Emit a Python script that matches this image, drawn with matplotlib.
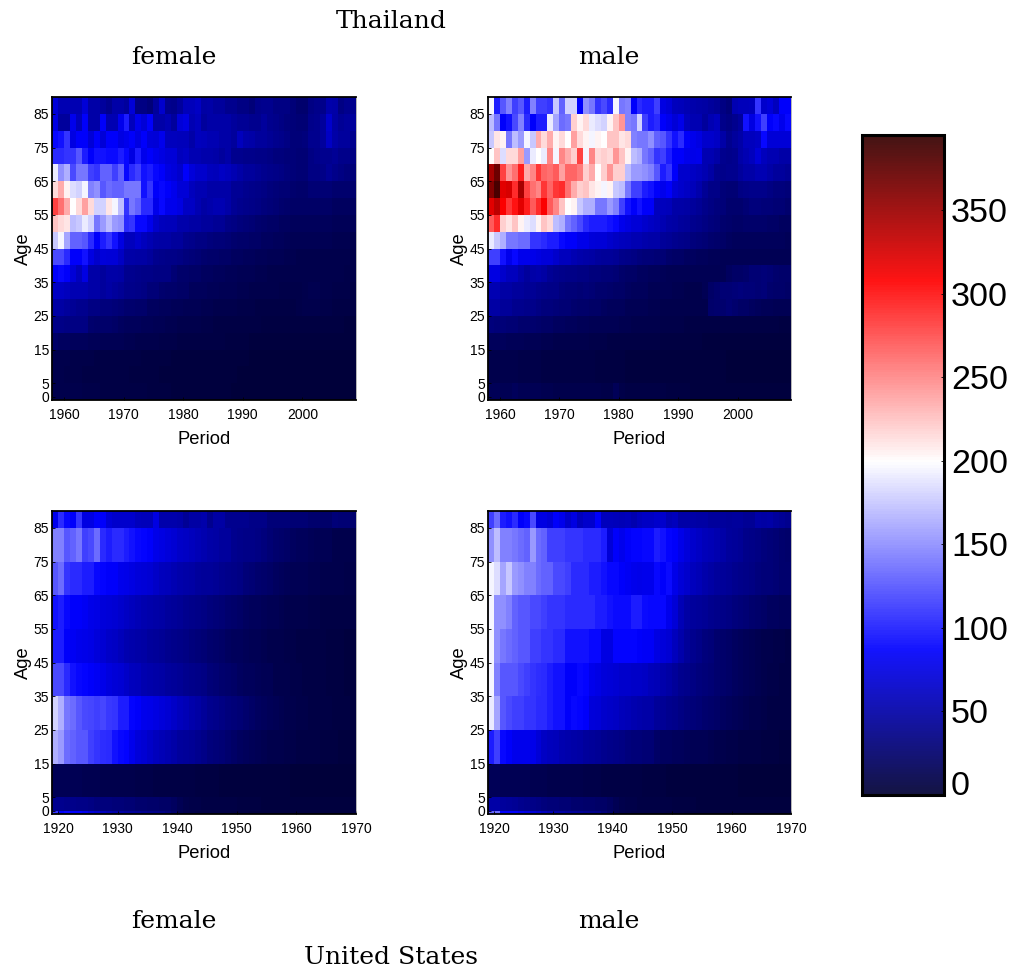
import numpy as np
import matplotlib
matplotlib.use("Agg")
import matplotlib.pyplot as plt
from matplotlib.colors import LinearSegmentedColormap

plt.rcParams['font.family'] = ['Liberation Sans', 'DejaVu Sans']

W, H = 1018, 973

thai_years = np.arange(1958, 2010)
us_years = np.arange(1919, 1971)
thai_ages = [90, 85, 80, 75, 70, 65, 60, 55, 50, 45, 40, 35, 30, 25, 20, 15, 10, 5, 1, 0]
us_ages = [90, 85, 75, 65, 55, 45, 35, 25, 15, 5, 1, 0]

thai_xticks = [1960, 1970, 1980, 1990, 2000]
us_xticks = [1920, 1930, 1940, 1950, 1960, 1970]
age_ticks = [1, 5, 15, 25, 35, 45, 55, 65, 75, 85]
age_labels = ['0', '5', '15', '25', '35', '45', '55', '65', '75', '85']
bar_ticks = [0, 50, 100, 150, 200, 250, 300, 350]

# rows run from the oldest age group down to the youngest
thai_female = [
    [70,55,55,55,55,70,50,50,45,40, 50,50,45,70,35,35,30,45,65,40, 38,45,58,58,62,48,50,45,45,40, 40,35,35,30,38,40,40,35,35,35, 30,25,25,35,38,38,52,50,35,40, 40],
    [75,45,45,80,60,85,50,50,85,55, 55,80,100,60,80,70,85,50,50,55, 45,70,75,55,60,45,50,50,50,50, 45,42,42,40,40,45,40,38,35,32, 30,28,28,38,40,45,65,48,42,45, 45],
    [90,95,110,75,85,85,70,85,70,85, 85,75,80,85,75,85,72,70,80,60, 60,58,58,50,60,58,55,55,50,50, 45,60,52,50,45,45,42,40,38,35, 30,30,32,40,40,45,62,50,45,45, 40],
    [105,105,110,110,125,100,85,95,95,92, 92,100,90,75,100,80,85,80,75,70, 70,60,62,55,55,52,52,50,45,50, 40,40,38,38,36,36,35,32,32,30, 30,28,28,35,38,40,40,42,38,38, 35],
    [190,150,165,120,140,140,115,110,130,130, 115,130,90,105,115,95,100,90,85,75, 72,65,85,72,65,65,60,58,62,60, 55,50,45,45,42,40,38,36,34,32, 30,28,28,34,34,36,42,38,35,32, 30],
    [215,235,205,185,180,195,145,150,125,135, 130,130,140,140,140,95,110,85,90,85, 80,70,70,60,55,55,50,50,50,50, 42,42,40,38,36,34,32,30,28,28, 25,24,24,28,28,28,28,26,25,25, 25],
    [280,260,235,200,215,240,215,180,180,210, 195,170,110,140,130,105,105,80,90,80, 80,75,62,62,55,48,52,55,55,50, 42,40,38,36,34,32,30,28,26,24, 22,22,22,22,22,22,22,20,20,20, 20],
    [225,215,210,170,175,190,180,140,155,170, 155,150,105,110,90,90,80,65,60,58, 58,52,52,48,48,45,45,42,42,36, 34,32,30,28,26,24,22,22,20,20, 18,18,18,18,18,18,18,16,16,16, 16],
    [175,195,160,130,130,125,105,85,100,110, 95,75,60,60,65,60,55,50,48,48, 45,45,40,38,35,35,32,30,30,28, 26,24,24,22,22,20,20,18,18,16, 15,15,15,15,14,14,14,13,13,13, 12],
    [120,120,105,85,85,95,75,65,72,70, 70,62,50,50,48,48,45,40,38,36, 36,35,32,30,28,26,24,24,22,22, 20,20,18,18,16,16,15,14,14,13, 13,12,12,12,12,12,12,11,11,11, 10],
    [85,90,85,70,60,75,50,50,45,50, 50,48,40,40,38,36,36,34,34,34, 28,24,24,22,22,20,20,18,18,16, 16,15,14,14,13,13,12,12,11,11, 11,11,11,12,12,12,12,11,11,10, 10],
    [62,62,60,55,55,55,50,50,45,48, 45,42,38,38,36,34,30,30,26,24, 24,22,22,18,18,17,16,16,15,14, 14,13,13,12,12,11,11,11,10,10, 10,10,12,13,13,12,12,10,10,10, 9],
    [48,48,45,42,40,40,34,34,32,32, 30,28,26,26,24,24,20,20,18,18, 16,16,15,14,14,13,13,12,12,11, 11,10,10,10,9,9,9,9,9,9, 9,10,11,12,12,10,10,9,9,8, 8],
    [36,36,34,34,34,34,26,24,24,24, 22,20,18,18,17,16,16,14,14,13, 13,12,12,11,11,10,10,9,9,9, 8,8,8,8,8,7,7,7,7,7, 7,7,7,7,7,7,7,7,7,6, 6],
    [22,20,20,18,18,18,16,16,15,15, 14,14,13,13,12,12,11,11,10,10, 10,9,9,9,9,8,8,8,8,7, 7,7,7,6,6,6,6,6,6,6, 6,6,6,6,6,6,6,5,5,5, 5],
    [12,11,11,10,10,10,10,9,9,9, 9,8,8,8,8,7,7,7,7,7, 6,6,6,6,6,5,5,5,5,5, 5,5,5,4,4,4,4,4,4,4, 4,4,4,4,4,4,4,4,4,4, 4],
    [11,11,10,10,10,9,9,9,9,8, 8,8,8,7,7,7,7,7,6,6, 6,6,6,6,5,5,5,5,5,5, 5,4,4,4,4,4,4,4,4,4, 4,4,4,4,4,4,4,4,4,4, 4],
    [12,12,11,11,11,10,10,10,9,9, 9,9,8,8,8,8,7,7,7,7, 6,6,6,6,6,5,5,5,5,5, 4,4,4,4,4,4,4,4,4,4, 4,4,4,4,4,4,4,4,4,4, 4],
    [12,12,11,11,11,10,10,10,9,9, 9,9,8,8,8,8,7,7,7,7, 6,6,6,6,6,5,5,5,5,5, 4,4,4,4,4,4,4,4,4,4, 4,4,4,4,4,4,4,4,4,4, 4],
]

thai_male = [
    [195,100,125,145,115,125,100,145,115,115, 110,175,130,180,180,85,150,140,110,120, 105,195,140,145,85,105,100,100,115,75, 70,60,58,55,52,50,48,45,42,35, 30,55,58,58,60,110,65,70,60,85, 85],
    [170,140,85,95,120,145,105,85,100,100, 190,160,135,140,220,205,215,190,185,180, 205,225,245,145,140,180,115,100,105,85, 80,70,78,60,55,55,45,55,60,38, 35,40,45,95,75,95,115,85,90,80, 90],
    [175,210,205,140,170,155,195,175,235,215, 235,205,215,200,240,215,205,195,205,200, 225,225,210,215,145,140,140,150,130,125, 110,95,105,85,80,75,65,65,62,50, 40,45,50,60,60,62,90,70,70,70, 70],
    [200,225,185,215,215,240,155,190,200,190, 250,195,250,235,220,280,195,250,215,220, 215,245,225,205,170,165,140,130,110,115, 100,85,85,80,78,80,55,55,50,40, 38,40,50,55,60,70,60,55,55,50, 50],
    [345,370,280,245,260,295,235,250,285,265, 260,270,240,265,265,255,220,235,200,220, 245,220,220,170,155,155,150,145,125,100, 110,85,65,65,62,60,55,48,40,38, 40,40,45,50,50,55,55,50,45,45, 42],
    [360,385,320,325,290,345,280,260,250,285, 265,285,290,260,235,220,225,210,205,195, 205,175,170,140,115,115,100,95,85,80, 85,70,65,62,58,52,42,36,36,30, 28,28,35,36,38,38,38,34,32,32, 30],
    [320,335,310,285,300,320,295,270,290,310, 270,250,225,200,205,175,165,165,140,140, 155,145,115,95,85,95,85,85,60,60, 58,50,50,48,45,42,38,34,32,30, 25,25,26,28,32,32,30,30,28,28, 26],
    [270,290,220,210,225,205,190,185,205,225, 215,170,165,140,130,120,105,100,100,100, 95,90,80,75,70,70,65,62,60,55, 50,48,46,44,40,38,34,32,30,26, 24,22,22,24,24,24,24,22,22,20, 20],
    [190,175,165,140,140,135,135,110,110,105, 100,100,90,85,85,78,78,72,70,70, 65,62,60,58,55,55,52,50,50,44, 42,40,38,36,32,30,28,26,24,22, 20,18,18,18,18,18,18,18,17,17, 16],
    [115,115,95,80,90,80,80,78,75,72, 72,65,60,60,55,52,50,48,46,44, 44,42,38,36,34,32,30,30,28,28, 24,22,22,20,20,18,18,16,16,15, 14,14,14,15,15,15,15,15,14,14, 14],
    [75,75,65,60,60,52,45,50,52,48, 42,40,38,36,36,34,34,32,32,30, 30,28,24,22,22,20,20,18,18,16, 15,15,14,14,14,14,14,14,14,14, 20,22,22,24,28,28,30,28,26,24, 24],
    [55,55,48,48,45,45,42,42,40,38, 36,36,32,30,30,28,30,28,26,26, 24,22,22,20,18,18,18,15,15,14, 14,13,13,12,12,12,14,22,26,28, 28,30,32,30,30,28,30,26,24,24, 22],
    [48,48,44,44,40,40,38,38,34,32, 32,30,28,28,26,24,24,22,22,20, 18,18,18,15,15,14,14,13,13,12, 12,11,11,11,11,11,11,24,26,26, 28,26,22,22,20,18,16,16,15,15, 14],
    [32,30,30,28,28,26,26,26,24,22, 22,20,20,18,18,16,16,15,15,14, 14,14,13,13,12,12,11,11,11,10, 10,10,10,9,9,9,9,9,9,9, 9,9,9,9,9,8,8,8,8,7, 7],
    [18,18,18,16,16,16,14,14,14,13, 13,12,12,12,11,11,11,10,10,10, 9,9,9,9,8,8,8,8,8,7, 7,7,7,7,7,7,6,6,6,6, 6,6,6,6,6,6,6,6,5,5, 5],
    [12,12,11,11,11,10,10,10,10,9, 9,9,9,8,8,8,8,8,7,7, 7,7,7,6,6,6,6,6,6,5, 5,5,5,5,5,5,5,5,5,5, 4,4,4,4,4,4,4,4,4,4, 4],
    [12,12,11,11,11,10,10,10,10,9, 9,9,9,8,8,8,8,8,7,7, 7,7,7,6,6,6,6,6,6,5, 5,5,5,5,5,5,5,5,5,5, 4,4,4,4,4,4,4,4,4,4, 4],
    [16,16,15,15,18,15,14,14,14,13, 13,12,12,12,12,11,11,11,11,10, 10,16,10,9,9,9,8,8,8,8, 7,7,7,7,6,6,6,6,6,6, 5,5,5,5,5,5,5,5,5,5, 5],
    [16,16,15,15,18,15,14,14,14,13, 13,12,12,12,12,11,11,11,11,10, 10,16,10,9,9,9,8,8,8,8, 7,7,7,7,6,6,6,6,6,6, 5,5,5,5,5,5,5,5,5,5, 5],
]

us_female = [
    [80,105,90,85,110,75,75,85,85,70, 65,65,65,65,60,58,58,75,52,52, 52,50,42,48,48,52,40,48,48,40, 40,40,40,36,36,36,30,30,30,30, 28,28,28,26,26,24,24,30,28,28, 25],
    [145,145,125,130,140,115,120,135,105,100, 105,105,100,95,90,88,85,78,75,72, 68,64,62,60,56,54,50,48,45,45, 40,38,36,36,34,32,28,26,24,22, 20,18,18,16,14,14,14,12,12,12, 11],
    [125,135,110,105,105,100,100,90,88,85, 85,80,78,75,72,70,68,64,60,58, 55,52,50,48,46,44,44,42,40,38, 36,34,30,28,26,24,22,20,18,16, 15,14,14,13,13,12,12,11,11,10, 10],
    [95,100,90,85,85,82,78,76,72,70, 68,66,62,60,56,54,52,50,48,46, 44,42,40,38,36,34,32,30,28,26, 24,22,20,18,17,16,15,14,13,12, 12,11,11,10,10,9,9,9,8,8, 8],
    [100,100,85,82,80,78,76,72,68,64, 62,58,54,52,50,48,46,44,42,40, 38,36,34,32,30,28,26,24,22,20, 18,17,16,15,14,13,12,11,11,10, 10,9,9,8,8,8,7,7,7,6, 6],
    [120,120,105,95,90,88,85,82,78,74, 70,68,64,60,58,54,52,50,48,46, 44,42,40,38,36,34,30,28,26,24, 22,20,18,17,16,15,14,12,12,11, 10,10,9,9,8,8,7,7,7,6, 6],
    [180,165,140,135,125,120,118,115,118,112, 110,100,100,88,85,80,78,75,72,68, 64,60,56,52,48,44,40,38,35,32, 30,28,25,22,20,18,16,14,13,12, 11,10,10,9,9,8,8,7,7,7, 6],
    [165,155,135,130,125,125,115,110,108,105, 95,90,88,80,72,68,64,60,56,54, 50,46,44,42,40,36,32,30,28,26, 22,20,18,16,14,13,12,12,11,10, 10,9,9,8,8,7,7,7,6,6, 6],
    [15,15,14,14,14,13,13,13,12,12, 12,11,11,11,10,10,10,9,9,9, 9,8,8,8,7,7,7,7,6,6, 6,6,5,5,5,5,5,5,5,5, 4,4,4,4,4,4,4,4,4,4, 4],
    [40,40,38,38,36,36,34,32,32,32, 30,30,28,28,26,26,24,24,22,22, 20,14,12,10,10,9,9,8,8,8, 8,7,7,7,7,6,6,6,6,6, 6,5,5,5,5,5,5,5,5,5, 5],
    [110,85,90,85,85,80,70,65,60,55, 50,48,46,44,42,40,38,36,34,30, 24,14,12,10,9,9,8,8,8,8, 7,7,7,6,6,6,6,6,6,5, 5,5,5,5,5,5,5,5,5,5, 5],
]

us_male = [
    [115,135,100,95,105,85,90,120,75,75, 70,85,80,65,75,60,65,65,85,60, 60,58,56,58,54,60,62,62,66,66, 56,60,50,50,50,48,48,46,46,46, 44,46,46,42,42,50,48,50,46,42, 40],
    [150,170,145,145,140,135,130,155,135,130, 115,115,115,110,110,110,105,105,105,100, 70,85,80,85,88,88,90,90,100,95, 88,85,78,72,66,62,58,56,54,50, 46,44,42,38,36,34,32,30,28,26, 24],
    [195,185,160,175,155,150,145,145,135,130, 130,120,120,115,105,105,105,100,100,95, 90,90,85,82,80,78,80,80,90,85, 92,78,70,65,60,56,52,48,46,44, 42,40,38,36,34,32,30,30,28,26, 26],
    [195,150,150,145,130,125,125,120,120,115, 110,110,110,105,105,105,105,105,100,100, 95,92,92,92,100,100,92,90,90,90, 80,70,56,48,46,44,42,40,38,36, 34,32,30,28,26,24,22,20,20,18, 18],
    [195,150,140,135,130,125,125,115,115,110, 110,105,105,95,95,95,95,90,90,75, 75,88,88,88,88,86,84,84,75,72, 68,60,52,44,40,36,32,30,26,24, 22,20,18,16,14,13,12,11,10,10, 9],
    [195,145,125,125,125,120,115,110,108,105, 100,95,95,85,85,90,88,80,76,72, 70,68,66,66,64,64,62,58,56,52, 48,44,40,38,34,32,30,28,26,24, 22,20,18,16,14,13,12,10,10,9, 9],
    [190,160,125,120,115,115,110,110,105,105, 100,95,95,85,90,88,85,72,70,66, 64,62,58,56,54,52,50,50,44,42, 40,38,34,32,30,28,26,24,22,20, 18,16,14,13,12,11,10,9,8,8, 8],
    [100,115,90,85,80,80,80,78,70,62, 60,58,54,52,50,48,46,44,42,40, 38,36,34,32,30,30,28,28,22,20, 20,18,18,16,15,14,14,13,12,11, 10,10,9,9,8,8,7,7,7,6, 6],
    [16,16,15,15,14,14,14,13,13,13, 12,12,12,11,11,11,10,10,10,9, 9,9,8,8,8,8,7,7,7,7, 6,6,6,6,6,5,5,5,5,5, 5,5,4,4,4,4,4,4,4,4, 4],
    [50,50,45,44,42,40,38,36,34,32, 30,30,28,28,26,26,24,24,22,22, 20,14,12,10,10,9,9,8,8,8, 8,7,7,7,7,6,6,6,6,6, 6,5,5,5,5,5,5,5,5,5, 5],
    [130,135,85,85,85,80,75,70,65,60, 55,50,48,46,44,42,40,38,36,30, 24,14,12,10,9,9,8,8,8,8, 7,7,7,6,6,6,6,6,6,5, 5,5,5,5,5,5,5,5,5,5, 5],
]

cmap = LinearSegmentedColormap.from_list(
    'bwr_dark',
    [(0.0, (0.0, 0.0, 0.2)), (0.22, (0.0, 0.0, 1.0)), (0.505, (1.0, 1.0, 1.0)),
     (0.78, (1.0, 0.0, 0.0)), (1.0, (0.2, 0.0, 0.0))],
    N=256,
)
vmin, vmax = 0, 395

fig = plt.figure(figsize=(W / 100, H / 100), dpi=100)


def px_axes(left, top, right, bottom):
    return fig.add_axes([left / W, 1 - bottom / H, (right - left) / W, (bottom - top) / H])


def px_text(x, y, s, **kw):
    fig.text(x / W, 1 - y / H, s, ha='center', va='center', **kw)


def panel(box, years, ages, values, xticks):
    ax = px_axes(*box)
    mesh = ax.pcolormesh(years, ages, np.array(values), cmap=cmap, vmin=vmin, vmax=vmax)
    ax.set_xlim(years[0], years[-1])
    ax.set_ylim(0, 90)
    ax.set_xticks(xticks)
    ax.set_yticks(age_ticks)
    ax.set_yticklabels(age_labels)
    ax.tick_params(direction='in', length=2, width=0.6, labelsize=10, color='k')
    ax.tick_params(axis='x', pad=6)
    ax.tick_params(axis='y', pad=2)
    ax.spines['right'].set_linewidth(0.5)
    ax.spines['right'].set_color('#999999')
    for side in ['left', 'top', 'bottom']:
        ax.spines[side].set_linewidth(1.3)
    px_text((box[0] + box[2]) / 2, box[3] + 39, 'Period', fontsize=13.2)
    px_text(box[0] - 29, (box[1] + box[3]) / 2, 'Age', fontsize=13.2, rotation=90)
    return mesh


mesh = panel((52, 97, 356, 400), thai_years, thai_ages, thai_female, thai_xticks)
panel((488, 97, 791, 400), thai_years, thai_ages, thai_male, thai_xticks)
panel((52, 511, 356, 814), us_years, us_ages, us_female, us_xticks)
panel((488, 511, 791, 814), us_years, us_ages, us_male, us_xticks)

cax = px_axes(862, 135, 944, 795)
cb = fig.colorbar(mesh, cax=cax, ticks=bar_ticks)
cb.solids.set_alpha(0.92)
cb.outline.set_linewidth(2.2)
cb.ax.tick_params(direction='in', length=2, width=0.6, labelsize=24.5, pad=5)
cb.ax.get_yticklabels()[0].set_va('baseline')

serif = ['DejaVu Serif']
px_text(391, 22, 'Thailand', fontsize=18, family=serif)
px_text(174, 58, 'female', fontsize=18, family=serif)
px_text(609, 58, 'male', fontsize=18, family=serif)
px_text(174, 922, 'female', fontsize=18, family=serif)
px_text(609, 922, 'male', fontsize=18, family=serif)
px_text(391, 958, 'United States', fontsize=18, family=serif)

fig.savefig('out.png', dpi=100)
